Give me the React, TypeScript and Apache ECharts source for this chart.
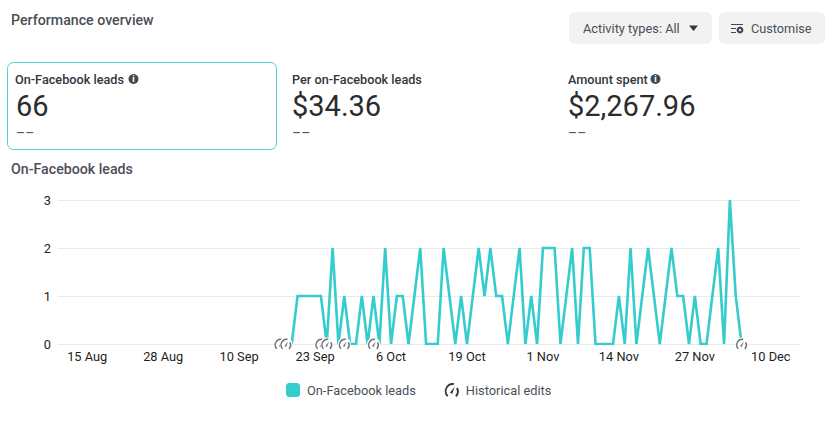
import React, { useEffect, useRef } from "react";
import * as echarts from "echarts";

const MONTHS = ["Jan", "Feb", "Mar", "Apr", "May", "Jun", "Jul", "Aug", "Sep", "Oct", "Nov", "Dec"];
const AXIS_DAYS = 128;
const categories: string[] = [];
for (let i = 0; i < AXIS_DAYS; i++) {
  const d = new Date(Date.UTC(2023, 7, 10 + i));
  categories.push(`${d.getUTCDate()} ${MONTHS[d.getUTCMonth()]}`);
}

const firstLeadDay = "19 Sep";
const leads = [
  0, 1, 1, 1, 1, 1, 0, 2, 0, 1, 0, 0,
  1, 0, 1, 0, 2, 0, 1, 1, 0, 1, 2, 0, 0, 0, 2, 1, 0, 1, 0, 1, 2, 1, 2, 1, 1, 0, 1, 2, 0, 1, 0,
  2, 2, 2, 0, 1, 2, 0, 2, 2, 0, 0, 0, 0, 1, 0, 2, 0, 1, 2, 1, 0, 1, 2, 1, 1, 0, 1, 0, 0, 1,
  2, 0, 3, 1, 0,
];
const historicalEdits = ["17 Sep", "18 Sep", "24 Sep", "25 Sep", "28 Sep", "3 Oct", "5 Dec"];
const yTicks = { min: 0, max: 3, interval: 1 };

const TITLE = "Performance overview";
const CHART_TITLE = "On-Facebook leads";
const SERIES_NAME = "On-Facebook leads";
const EDITS_NAME = "Historical edits";
const metrics = [
  { label: "On-Facebook leads", value: "66", x: 15, info: 133.5 },
  { label: "Per on-Facebook leads", value: "$34.36", x: 292, info: 0 },
  { label: "Amount spent", value: "$2,267.96", x: 568, info: 655.5 },
];

const FONT = "Roboto";
const TEAL = "#35cccd";
const DARK = "#1c1e21";
const MID = "#4b4f56";

const GAUGE =
  "M6.2 20.6A11.5 11.5 0 0 1 16.2 1.3L15.4 3.9A8.8 8.8 0 0 0 8 18.8ZM21.5 7.5A11.5 11.5 0 0 1 19.6 20.9L17.7 18.9A8.8 8.8 0 0 0 19 8.8ZM10.4 14.6L17 6.6L13.4 16.6Z";

const txt = (text: string, x: number, y: number, size: number, weight: number, fill: string) => ({
  type: "text",
  x,
  y,
  silent: true,
  style: { text, fontFamily: FONT, fontSize: size, fontWeight: weight, fill, textVerticalAlign: "middle" },
});

function infoIcon(x: number, y: number) {
  return [
    { type: "circle", shape: { cx: x, cy: y, r: 5 }, style: { fill: "#444950" } },
    {
      type: "text",
      x,
      y,
      style: { text: "i", fontFamily: FONT, fontSize: 9, fontWeight: 700, fill: "#fff", textAlign: "center", textVerticalAlign: "middle" },
    },
  ];
}

export default function App() {
  const ref = useRef<HTMLDivElement>(null);
  useEffect(() => {
    document.body.style.margin = "0";
    document.body.style.background = "#fff";
    const chart = echarts.init(ref.current!, undefined, { renderer: "svg" });
    const start = categories.indexOf(firstLeadDay);
    const lineData = categories.map((_, i) => {
      const v = leads[i - start];
      return v === undefined ? null : v;
    });
    const label15Aug = categories.indexOf("15 Aug");

    const graphics: any[] = [
      txt(TITLE, 11, 20, 14.2, 500, MID),
      txt(CHART_TITLE, 11, 169, 14.2, 500, MID),
      {
        type: "rect",
        shape: { x: 7.5, y: 62.5, width: 269, height: 87, r: 6 },
        style: { fill: "#fff", stroke: "#52d0d3", lineWidth: 1 },
      },
      { type: "rect", shape: { x: 569, y: 12, width: 143, height: 32, r: 6 }, style: { fill: "#f2f2f2" } },
      { type: "rect", shape: { x: 719, y: 12, width: 106, height: 32, r: 6 }, style: { fill: "#f2f2f2" } },
      txt("Activity types: All", 583, 28.5, 12.8, 400, MID),
      { type: "polygon", shape: { points: [[689, 25.5], [698, 25.5], [693.5, 31]] }, style: { fill: "#33363b" } },
      txt("Customise", 751, 28.5, 12.7, 400, MID),
      { type: "line", shape: { x1: 731, y1: 24.5, x2: 743, y2: 24.5 }, style: { stroke: "#444950", lineWidth: 1 } },
      { type: "line", shape: { x1: 731, y1: 28.5, x2: 736, y2: 28.5 }, style: { stroke: "#444950", lineWidth: 1 } },
      { type: "line", shape: { x1: 731, y1: 32.5, x2: 736, y2: 32.5 }, style: { stroke: "#444950", lineWidth: 1 } },
      { type: "ring", shape: { cx: 740, cy: 30, r: 3.4, r0: 1.2 }, style: { fill: "#444950" } },
    ];
    for (const m of metrics) {
      const vx = m.x + (m.x === 15 ? 1 : 0);
      graphics.push(txt(m.label, m.x, 79.5, 12.7, 500, "#33363b"));
      graphics.push(txt(m.value, vx, 105.5, 29, 400, "#2a2c30"));
      graphics.push(txt("––", vx, 133, 14, 400, "#555"));
      if (m.info) graphics.push(...infoIcon(m.info, 79));
    }

    chart.setOption({
      animation: false,
      backgroundColor: "#fff",
      textStyle: { fontFamily: FONT },
      graphic: { elements: graphics },
      legend: {
        left: 286,
        top: 383,
        padding: 0,
        itemWidth: 14,
        itemHeight: 14,
        itemGap: 29,
        selectedMode: false,
        textStyle: { fontFamily: FONT, fontSize: 12.8, color: MID, padding: [0, 0, 0, 2] },
        data: [
          { name: SERIES_NAME, icon: "roundRect", itemStyle: { color: TEAL } },
          { name: EDITS_NAME, icon: "path://" + GAUGE, itemStyle: { color: "#33363b" } },
        ],
      },
      grid: { left: 58, right: 37, top: 200, bottom: 95 },
      xAxis: {
        type: "category",
        data: categories,
        boundaryGap: false,
        axisLine: { show: false },
        axisTick: { show: false },
        axisLabel: {
          margin: 6,
          fontFamily: FONT,
          fontSize: 12.8,
          color: DARK,
          interval: (i: number) => (i - label15Aug) % 13 === 0 && i >= label15Aug,
        },
      },
      yAxis: {
        type: "value",
        min: yTicks.min,
        max: yTicks.max,
        interval: yTicks.interval,
        axisLine: { show: false },
        axisTick: { show: false },
        axisLabel: { margin: 7, fontFamily: FONT, fontSize: 12.8, color: DARK },
        splitLine: { lineStyle: { color: "#e9eaeb", width: 1 } },
      },
      series: [
        {
          name: SERIES_NAME,
          type: "line",
          data: lineData,
          showSymbol: false,
          connectNulls: false,
          lineStyle: { color: TEAL, width: 2.6, join: "miter" },
          itemStyle: { color: TEAL },
          z: 2,
        },
        {
          name: EDITS_NAME,
          type: "custom",
          coordinateSystem: "cartesian2d",
          clip: false,
          z: 3,
          itemStyle: { color: "#33363b" },
          encode: { x: 0, y: 1 },
          data: historicalEdits.map((d) => [d, 0]),
          renderItem: (_: any, api: any) => {
            const [cx, cy] = api.coord([api.value(0), api.value(1)]);
            return {
              type: "group",
              children: [
                { type: "circle", shape: { cx, cy, r: 6.5 }, style: { fill: "#fff" } },
                {
                  type: "path",
                  shape: { pathData: GAUGE, x: cx - 5.5, y: cy - 5.5, width: 11, height: 11 },
                  style: { fill: "#6f7277" },
                },
              ],
            };
          },
        },
      ],
    });
    return () => chart.dispose();
  }, []);
  return <div ref={ref} style={{ position: "absolute", left: 0, top: 0, width: 837, height: 439 }} />;
}
